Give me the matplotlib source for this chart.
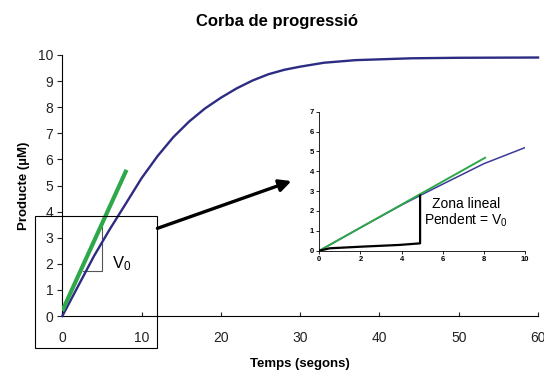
import matplotlib

matplotlib.use("Agg")
import matplotlib.pyplot as plt
from matplotlib.patches import Rectangle

plt.rcParams["font.family"] = ["Liberation Sans", "DejaVu Sans"]
plt.rcParams["mathtext.fontset"] = "custom"
plt.rcParams["mathtext.rm"] = "Liberation Sans"

# progress curve (main plot)
time_s = [0, 2, 4, 6, 8, 10, 12, 14, 16, 18, 20, 22, 24, 26, 28, 30, 33, 37, 44, 50, 60]
product_um = [0, 1.15, 2.3, 3.33, 4.3, 5.28, 6.12, 6.85, 7.45, 7.95, 8.36, 8.72, 9.02, 9.26, 9.43,
              9.55, 9.70, 9.80, 9.87, 9.89, 9.9]

# initial-rate tangent and slope triangle (main plot)
tangent_t = [0, 8.1]
tangent_p = [0.2, 5.6]
tri_t = [2.55, 5.05, 5.05]
tri_p = [1.72, 1.72, 3.42]

# zoomed view (inset)
zoom_t = [0, 2, 4, 5, 6, 8, 10]
zoom_p = [0, 1.16, 2.3, 2.83, 3.35, 4.38, 5.19]
zoom_tan_t = [0, 8.06]
zoom_tan_p = [0, 4.68]
zoom_tri_t = [0, 0.5, 2, 3.9, 4.9, 4.9]
zoom_tri_p = [0, 0.12, 0.2, 0.29, 0.37, 2.77]

BLUE = "#2c2c82"
GREEN = "#2ea84a"

fig = plt.figure(figsize=(5.44, 3.71), dpi=100)
ax = fig.add_axes([0.1145, 0.148, 0.8745, 0.704])

ax.plot(time_s, product_um, color=BLUE, lw=1.7, clip_on=False, zorder=3, solid_joinstyle="round")
ax.plot(tangent_t, tangent_p, color=GREEN, lw=3.0, solid_capstyle="butt", zorder=4)
ax.plot(tri_t, tri_p, color="#555555", lw=0.8, zorder=2)
ax.text(6.3, 2.0, r"$\mathregular{V_0}$", fontsize=12, ha="left", va="center")

ax.set_xlim(0, 60)
ax.set_ylim(0, 10)
ax.set_xticks(range(0, 61, 10))
ax.set_yticks(range(0, 11))
for s in ("top", "right"):
    ax.spines[s].set_visible(False)
for s in ("left", "bottom"):
    ax.spines[s].set_linewidth(0.8)
ax.tick_params(axis="x", direction="in", length=3, pad=11, labelsize=10, colors="#222222")
ax.tick_params(axis="y", direction="out", length=3.5, pad=3, labelsize=10, colors="#222222")
ax.set_xlabel("Temps (segons)", fontsize=9.5, fontweight="bold", labelpad=9)
ax.set_ylabel("Producte (µM)", fontsize=9.5, fontweight="bold", labelpad=6)

# box around the initial zone + arrow to the inset
ax.add_patch(Rectangle((-3.5, -1.24), 15.5, 5.07, fill=False, lw=0.8, ec="black",
                       clip_on=False, zorder=5))
ax.annotate("", xy=(28.9, 5.17), xytext=(12.0, 3.36), annotation_clip=False,
            arrowprops=dict(arrowstyle="-|>", lw=2.4, color="black", mutation_scale=18,
                            shrinkA=0, shrinkB=0))

fig.text(0.509, 0.93, "Corba de progressió", ha="center", va="baseline",
         fontsize=12, fontweight="bold")

# inset
ins = fig.add_axes([0.587, 0.3243, 0.378, 0.3747])
ins.patch.set_alpha(0)
ins.plot(zoom_t, zoom_p, color="#3a3a9a", lw=1.1)
ins.plot(zoom_tan_t, zoom_tan_p, color=GREEN, lw=1.4)
ins.plot(zoom_tri_t, zoom_tri_p, color="black", lw=1.6)
ins.text(7.15, 1.9, "Zona lineal\nPendent = $\\mathregular{V_0}$", ha="center", va="center",
         fontsize=10, linespacing=1.0)
ins.set_xlim(0, 10)
ins.set_ylim(0, 7)
ins.set_xticks(range(0, 11, 2))
ins.set_yticks(range(0, 8))
for s in ("top", "right"):
    ins.spines[s].set_visible(False)
for s in ("left", "bottom"):
    ins.spines[s].set_linewidth(0.6)
ins.tick_params(direction="out", length=2, width=0.6, pad=2, labelsize=5.5)
for lab in ins.get_xticklabels() + ins.get_yticklabels():
    lab.set_fontweight("bold")

fig.savefig("out.png", dpi=100)
